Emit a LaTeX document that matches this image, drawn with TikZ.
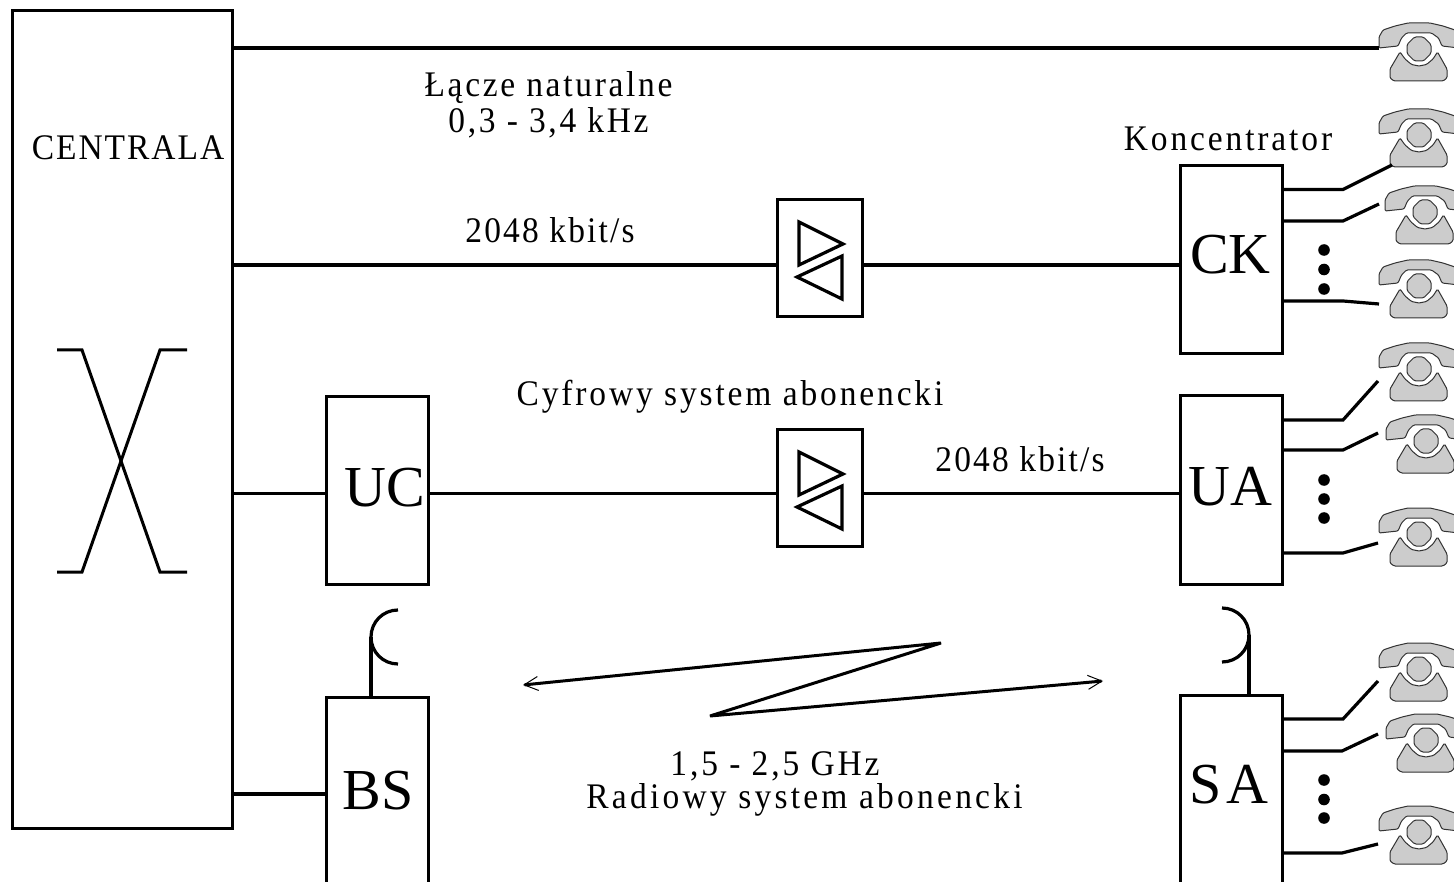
\documentclass[tikz,border=0pt]{standalone}
\usepackage{fontspec}
\setmainfont{Liberation Serif}
\usetikzlibrary{arrows.meta}
\newcommand{\smallfont}[1]{\fontsize{36}{36.5}\selectfont\addfontfeature{LetterSpace=#1,FakeStretch=0.93}}
\tikzset{
  x=1pt,y=-1pt,
  blockbox/.style={draw,line width=3pt,fill=white,inner sep=0pt,outer sep=0pt,minimum width=#1},
  wire/.style={line width=3.2pt,line join=miter},
  thinwire/.style={line width=3pt,line join=miter},
  biglabel/.style={inner sep=0pt,font=\fontsize{58}{60}\selectfont},
  smalllabel/.style={inner sep=0pt,align=center,font=\smallfont{#1}},
  phonepart/.style={draw=black!80,line width=1pt,fill=black!20,rounded corners=1.2pt},
  radio/.style={line width=3pt,line join=bevel,{Straight Barb[length=14pt,width=14pt,line width=1pt]}-{Straight Barb[length=14pt,width=14pt,line width=1pt]}},
  phone/.pic={
    \path[phonepart] (-40,-1) -- (-40,-12) -- (-36,-19) -- (-24,-23) -- (-11,-26) -- (11,-26) -- (24,-23) -- (36,-19) -- (40,-12) -- (40,-1) -- (23,-3) -- (19.5,-11) -- (12.5,-16) -- (-12.5,-16) -- (-17.5,-11) -- (-21,-3) -- cycle;
    \path[phonepart] (-29,29) -- (-29,20) -- (-19,3) -- (-14,10) -- (-7.5,15.5) -- (0,17) -- (7.5,15.5) -- (14,10) -- (18.5,3) -- (28,20) -- (28,29) -- (24,32) -- (-25,32) -- cycle;
    \path[phonepart,rounded corners=1.5pt] (-12,-4.5) -- (-4.5,-12) -- (4.5,-12) -- (12,-4.5) -- (12,4.5) -- (4.5,12) -- (-4.5,12) -- (-12,4.5) -- cycle;
    \coordinate (-w) at (-40,-1);
  }
}
\begin{document}
\begin{tikzpicture}
\useasboundingbox (0,0) rectangle (1454,882);
\clip (0,0) rectangle (1454,882);
\fill[white] (0,0) rectangle (1454,882);

% blocks
\node[blockbox=220pt,minimum height=817pt] (central) at (122,419.5) {};
\node[blockbox=85pt,minimum height=117pt] (amp1) at (819.5,258.5) {};
\node[blockbox=85pt,minimum height=117pt] (amp2) at (819.5,488) {};
\node[blockbox=102pt,minimum height=188pt] (ck) at (1231.5,260) {};
\node[blockbox=102pt,minimum height=188pt] (uc) at (377.5,490.5) {};
\node[blockbox=102pt,minimum height=188pt] (ua) at (1231.5,490) {};
\node[blockbox=102pt,minimum height=280pt] (bs) at (377.5,837) {};
\node[blockbox=102pt,minimum height=280pt] (sa) at (1231.5,835) {};

% block labels
\node[biglabel] (tck) at (1230.5,255) {CK};
\node[biglabel] (tuc) at (385,488) {UC};
\node[biglabel] (tua) at (1230,487) {UA};
\node[biglabel] (tbs) at (378,791) {BS};
\node[biglabel,font=\fontsize{58}{60}\selectfont\addfontfeature{LetterSpace=8}] (tsa) at (1229,785) {SA};

% phones
\pic (p1) at (1419,49) {phone};
\pic (p2) at (1419,135) {phone};
\pic (p3) at (1425,212) {phone};
\pic (p4) at (1419,286) {phone};
\pic (p5) at (1419,369) {phone};
\pic (p6) at (1426,441) {phone};
\pic (p7) at (1419,534) {phone};
\pic (p8) at (1419,669) {phone};
\pic (p9) at (1426,740) {phone};
\pic (p10) at (1419,832) {phone};

% trunk rows
\coordinate (r1) at (0,265);
\coordinate (r2) at (0,493.5);
\coordinate (r3) at (0,794);
\draw[wire] (central.east |- p1-w) -- (p1-w);
\draw[wire] (central.east |- r1) -- (amp1.west |- r1);
\draw[wire] (amp1.east |- r1) -- (ck.west |- r1);
\draw[wire] (central.east |- r2) -- (uc.west |- r2);
\draw[wire] (uc.east |- r2) -- (amp2.west |- r2);
\draw[wire] (amp2.east |- r2) -- (ua.west |- r2);
\draw[wire] (central.east |- r3) -- (bs.west |- r3);

% subscriber wires
\coordinate (w2) at (1392,165);
\coordinate (w3) at (1379,204);
\coordinate (w4) at (1379,304);
\coordinate (w5) at (1378,381);
\coordinate (w6) at (1378,433);
\coordinate (w7) at (1378,543);
\coordinate (w8) at (1378,681);
\coordinate (w9) at (1378,734);
\coordinate (w10) at (1378,844);
\draw[wire] (ck.east |- 0,189.5) -- (1343,189.5) -- (w2);
\draw[wire] (ck.east |- 0,221) -- (1343,221) -- (w3);
\draw[wire] (ck.east |- 0,301) -- (1343,301) -- (w4);
\draw[wire] (ua.east |- 0,420) -- (1343,420) -- (w5);
\draw[wire] (ua.east |- 0,450) -- (1343,450) -- (w6);
\draw[wire] (ua.east |- 0,553) -- (1343,553) -- (w7);
\draw[wire] (sa.east |- 0,719) -- (1343,719) -- (w8);
\draw[wire] (sa.east |- 0,751) -- (1342,751) -- (w9);
\draw[wire] (sa.east |- 0,853) -- (1342,853) -- (w10);

% ellipsis dots
\foreach \yy in {250,269.5,289,480,499,518,780,799.5,818}
  \fill (1324,\yy) circle[radius=5.8pt];

% amplifier triangles
\foreach \yy in {0,230}{
  \draw[wire] (799,222+\yy) -- (843,244+\yy) -- (799,265+\yy) -- cycle;
  \draw[wire] (842,256+\yy) -- (797,277+\yy) -- (842,299+\yy) -- cycle;
}

% switch
\draw[thinwire] (57,350) -- (82,350) -- (160,572) -- (187,572);
\draw[thinwire] (187,350) -- (160,350) -- (82,572) -- (57,572);

% antennas
\coordinate (a1) at (371,637);
\coordinate (a2) at (1249,635);
\draw[wire] (a1) -- (a1 |- bs.north);
\draw[wire] (a2) -- (a2 |- sa.north);
\draw[wire] (398,610) .. controls (383,610) and (371,622) .. (a1) .. controls (371,652) and (383,664) .. (398,664);
\draw[wire] (1222,608) .. controls (1237,608) and (1249,620) .. (a2) .. controls (1249,650) and (1237,662) .. (1222,662);

% radio link
\coordinate (z1) at (523,685);
\coordinate (z2) at (941,643);
\coordinate (z3) at (710,716);
\coordinate (z4) at (1103,681);
\draw[radio] (z1) -- (z2) -- (z3) -- (z4);

% text
\node[smalllabel=5.5] (lcentral) at (128,148) {CENTRALA};
\node[smalllabel=7.5] (lnat) at (548.5,105) {Łącze naturalne\\0,3 - 3,4 kHz};
\node[smalllabel=8] (lkon) at (1228,139) {Koncentrator};
\node[smalllabel=6] (lr1) at (550,230) {2048 kbit/s};
\node[smalllabel=8] (lcyf) at (730,397) {Cyfrowy system abonencki};
\node[smalllabel=6] (lr2) at (1020,459) {2048 kbit/s};
\node[smalllabel=8] (lghz) at (775,766) {1,5 - 2,5 GHz};
\node[smalllabel=9] (lrad) at (804.5,800) {Radiowy system abonencki};
\end{tikzpicture}
\end{document}
